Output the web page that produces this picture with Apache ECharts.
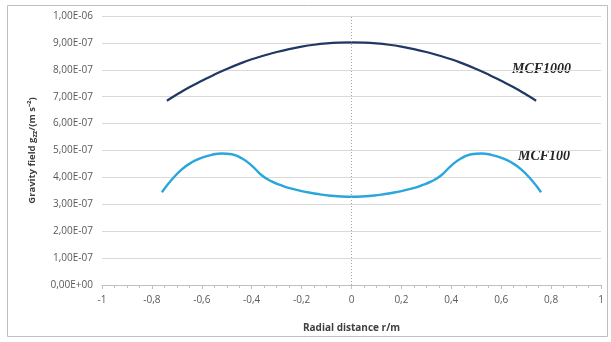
<!DOCTYPE html>
<html>
<head>
<meta charset="utf-8">
<script src="https://cdn.jsdelivr.net/npm/echarts@6/dist/echarts.min.js"></script>
<style>
  html, body { margin: 0; padding: 0; background: #fff; }
  #gravityChart { width: 611px; height: 342px; }
</style>
</head>
<body>
<div id="gravityChart"></div>
<script>
// radial distance (m) and gravity field (m s^-2)
const radius1000 = [-0.74, -0.7, -0.65, -0.6, -0.55, -0.5, -0.45, -0.4, -0.35, -0.3, -0.25, -0.2, -0.15, -0.1, -0.05, 0,
  0.05, 0.1, 0.15, 0.2, 0.25, 0.3, 0.35, 0.4, 0.45, 0.5, 0.55, 0.6, 0.65, 0.7, 0.74];
const g1000 = [6.85e-7, 7.08e-7, 7.35e-7, 7.59e-7, 7.82e-7, 8.03e-7, 8.22e-7, 8.39e-7, 8.53e-7, 8.66e-7, 8.77e-7, 8.86e-7, 8.93e-7, 8.98e-7, 9.01e-7, 9.02e-7,
  9.01e-7, 8.98e-7, 8.93e-7, 8.86e-7, 8.77e-7, 8.66e-7, 8.53e-7, 8.39e-7, 8.22e-7, 8.03e-7, 7.82e-7, 7.59e-7, 7.35e-7, 7.08e-7, 6.85e-7];

const radius100 = [-0.76, -0.72, -0.68, -0.64, -0.6, -0.56, -0.52, -0.48, -0.44, -0.4, -0.36, -0.32, -0.28, -0.24, -0.2, -0.16, -0.12, -0.08, -0.04, 0,
  0.04, 0.08, 0.12, 0.16, 0.2, 0.24, 0.28, 0.32, 0.36, 0.4, 0.44, 0.48, 0.52, 0.56, 0.6, 0.64, 0.68, 0.72, 0.76];
const g100 = [3.45e-7, 3.92e-7, 4.3e-7, 4.56e-7, 4.73e-7, 4.84e-7, 4.89e-7, 4.86e-7, 4.71e-7, 4.44e-7, 4.08e-7, 3.85e-7, 3.7e-7, 3.58e-7, 3.49e-7, 3.42e-7, 3.36e-7, 3.32e-7, 3.29e-7, 3.28e-7,
  3.29e-7, 3.32e-7, 3.36e-7, 3.42e-7, 3.49e-7, 3.58e-7, 3.7e-7, 3.85e-7, 4.08e-7, 4.44e-7, 4.71e-7, 4.86e-7, 4.89e-7, 4.84e-7, 4.73e-7, 4.56e-7, 4.3e-7, 3.92e-7, 3.45e-7];

const seriesNames = ["MCF1000", "MCF100"];

function pairs(xs, ys) {
  return xs.map((x, i) => [x, ys[i]]);
}

function sciLabel(v) {
  const parts = v.toExponential(2).split("e");
  const exp = parseInt(parts[1], 10);
  const sign = exp < 0 ? "-" : "+";
  return parts[0].replace(".", ",") + "E" + sign + String(Math.abs(exp)).padStart(2, "0");
}

const chartDom = document.getElementById("gravityChart");
const myChart = echarts.init(chartDom, null, { renderer: "canvas" });

const labelFont = "'Open Sans', 'Liberation Sans', sans-serif";

const option = {
  animation: false,
  backgroundColor: "#fff",
  grid: { left: 102, right: 10, top: 16, bottom: 57 },
  xAxis: {
    type: "value",
    min: -1,
    max: 1,
    interval: 0.2,
    name: "Radial distance r/m",
    nameLocation: "middle",
    nameGap: 38,
    nameTextStyle: { color: "#404040", fontSize: 10, fontWeight: "bold", fontFamily: labelFont },
    axisLine: { onZero: false, lineStyle: { color: "#bfbfbf", width: 1 } },
    axisTick: { show: true, length: 4, lineStyle: { color: "#bfbfbf" } },
    minorTick: { show: true, splitNumber: 4, length: 3, lineStyle: { color: "#bfbfbf" } },
    splitLine: { show: false },
    axisLabel: {
      color: "#595959",
      fontSize: 10,
      fontFamily: labelFont,
      margin: 10,
      formatter: (v) => String(Math.round(v * 10) / 10).replace(".", ",")
    }
  },
  yAxis: {
    type: "value",
    min: 0,
    max: 1e-6,
    interval: 1e-7,
    name: "Gravity field g{sub|zz}/(m s⁻²)",
    nameLocation: "middle",
    nameGap: 64,
    nameTextStyle: {
      color: "#404040",
      fontSize: 9.5,
      fontWeight: "bold",
      fontFamily: labelFont,
      rich: { sub: { fontSize: 7, fontWeight: "bold", color: "#404040", verticalAlign: "bottom", padding: [4, 0, 0, 0] } }
    },
    axisLine: { show: false },
    axisTick: { show: false },
    splitLine: { lineStyle: { color: "#d9d9d9", width: 1.2 } },
    axisLabel: {
      color: "#595959",
      fontSize: 10,
      fontFamily: labelFont,
      margin: 9,
      formatter: sciLabel
    }
  },
  series: [
    {
      name: seriesNames[0],
      type: "line",
      smooth: true,
      showSymbol: false,
      lineStyle: { color: "#1f3864", width: 2.2 },
      data: pairs(radius1000, g1000),
      // dotted vertical axis through r = 0
      markLine: {
        silent: true,
        symbol: "none",
        label: { show: false },
        lineStyle: { color: "#a6a6a6", type: [1, 2], width: 1 },
        data: [{ xAxis: 0 }]
      },
      z: 3
    },
    {
      name: seriesNames[1],
      type: "line",
      smooth: true,
      showSymbol: false,
      lineStyle: { color: "#2aa6dc", width: 2.4 },
      data: pairs(radius100, g100),
      z: 3
    }
  ],
  graphic: [
    {
      type: "rect",
      shape: { x: 7.5, y: 5.5, width: 600, height: 331 },
      style: { fill: null, stroke: "#bfbfbf", lineWidth: 1 },
      silent: true
    },
    {
      type: "text",
      left: 512,
      top: 62,
      style: { text: seriesNames[0], font: "italic bold 14px 'Liberation Serif', serif", fill: "#262626" }
    },
    {
      type: "text",
      left: 518,
      top: 149,
      style: { text: seriesNames[1], font: "italic bold 14px 'Liberation Serif', serif", fill: "#262626" }
    }
  ]
};

myChart.setOption(option);
window.addEventListener("resize", () => myChart.resize());
</script>
</body>
</html>
